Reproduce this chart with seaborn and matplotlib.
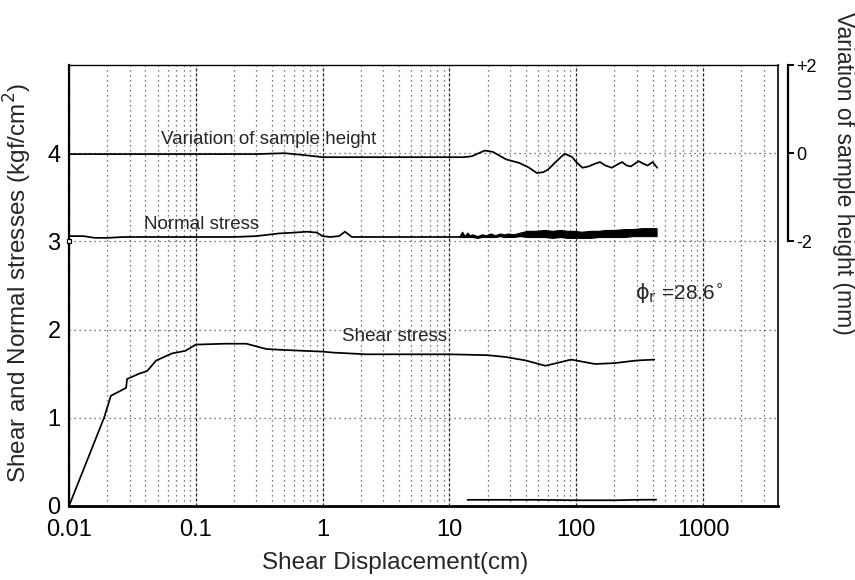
import matplotlib
matplotlib.use("Agg")
import matplotlib.pyplot as plt
from matplotlib.ticker import FixedLocator, FixedFormatter, LogLocator, NullFormatter
import seaborn as sns
import pandas as pd

# ---- data -------------------------------------------------------------
# Shear stress (kgf/cm2) vs shear displacement (cm)
shear_x = [0.01, 0.0189, 0.0214, 0.025, 0.0282, 0.0287, 0.0357, 0.0413, 0.0487,
           0.065, 0.083, 0.1, 0.17, 0.25, 0.36, 0.48, 0.7, 1.0, 1.2, 2.2, 5, 10,
           20, 27.6, 40, 57, 70, 91, 141, 200, 300, 413]
shear_y = [0.0, 1.0, 1.25, 1.30, 1.34, 1.44, 1.50, 1.53, 1.65,
           1.73, 1.76, 1.83, 1.84, 1.84, 1.78, 1.77, 1.76, 1.75, 1.74, 1.72, 1.72, 1.72,
           1.71, 1.69, 1.65, 1.59, 1.62, 1.66, 1.61, 1.62, 1.65, 1.66]

# Normal stress (kgf/cm2), smooth part
normal_x = [0.01, 0.013, 0.016, 0.02, 0.027, 0.04, 0.06, 0.1, 0.2, 0.3, 0.45, 0.6,
            0.75, 0.9, 1.0, 1.15, 1.35, 1.5, 1.7, 2.0, 4, 8, 12]
normal_y = [3.06, 3.06, 3.04, 3.04, 3.05, 3.05, 3.05, 3.05, 3.05, 3.06, 3.09, 3.10,
            3.11, 3.10, 3.06, 3.05, 3.06, 3.11, 3.05, 3.05, 3.05, 3.05, 3.05]

# Normal stress, fluctuating part (lower / upper envelope)
band_x = [12, 12.6, 13.2, 13.8, 14.5, 15.2, 16.6, 18, 19.5, 21, 23, 25, 27, 29, 32,
          36, 41, 48, 56, 65, 75, 85, 95, 110, 130, 150, 170, 200, 240, 280, 330,
          380, 430]
band_lo = [3.05, 3.05, 3.05, 3.05, 3.05, 3.05, 3.04, 3.05, 3.05, 3.05, 3.05, 3.06,
           3.05, 3.05, 3.05, 3.06, 3.05, 3.05, 3.05, 3.04, 3.05, 3.04, 3.04, 3.04,
           3.04, 3.05, 3.05, 3.05, 3.05, 3.06, 3.06, 3.06, 3.06]
band_hi = [3.06, 3.11, 3.06, 3.10, 3.07, 3.08, 3.06, 3.08, 3.07, 3.09, 3.07, 3.09,
           3.08, 3.09, 3.08, 3.10, 3.12, 3.12, 3.13, 3.12, 3.13, 3.12, 3.12, 3.11,
           3.12, 3.12, 3.13, 3.13, 3.14, 3.14, 3.15, 3.15, 3.15]

# Variation of sample height (mm)
height_x = [0.01, 0.3, 0.5, 0.7, 1.0, 5, 13, 15, 19, 22, 28, 35.5, 42, 49, 55, 60,
            70, 81, 87, 93, 100, 112, 125, 140, 154, 170, 191, 210, 230, 250, 270,
            310, 340, 366, 400, 435]
height_mm = [-0.02, -0.02, 0.0, -0.04, -0.09, -0.09, -0.09, -0.07, 0.06, 0.03,
             -0.14, -0.22, -0.32, -0.45, -0.43, -0.37, -0.18, -0.01, -0.05, -0.09,
             -0.20, -0.33, -0.30, -0.24, -0.20, -0.28, -0.33, -0.26, -0.20, -0.28,
             -0.30, -0.18, -0.24, -0.28, -0.20, -0.33]

# Stress trace of the later shearing stage near zero
low_x = [13.9, 50, 100, 200, 300, 427]
low_y = [0.07, 0.07, 0.065, 0.065, 0.07, 0.072]

x_ticks = [0.01, 0.1, 1, 10, 100, 1000]
x_ticklabels = ["0.01", "0.1", "1", "10", "100", "1000"]
y_ticks = [0, 1, 2, 3, 4]
h_ticks = [-2, 0, 2]
h_ticklabels = ["-2", "0", "+2"]

# ---- style ------------------------------------------------------------
sns.set_theme(style="white")
plt.rcParams["font.family"] = ["Liberation Sans", "DejaVu Sans"]
plt.rcParams["mathtext.fontset"] = "dejavusans"

fig = plt.figure(figsize=(8.55, 5.80), dpi=100)
ax = fig.add_axes([69 / 855, 1 - 506 / 580, 709 / 855, 441 / 580])
ax.set_xscale("log")
ax.set_xlim(0.01, 3900)
ax.set_ylim(0, 5)

line_kw = dict(color="black", linewidth=1.25, estimator=None, sort=False,
               legend=False)

sns.lineplot(data=pd.DataFrame({"d": shear_x, "s": shear_y}), x="d", y="s",
             ax=ax, **line_kw)
sns.lineplot(data=pd.DataFrame({"d": normal_x, "s": normal_y}), x="d", y="s",
             ax=ax, **line_kw)
ax.plot(normal_x[0], 3.0, marker="s", ms=3.5, mfc="white", mec="black", mew=0.9,
        clip_on=False, zorder=5)
ax.fill_between(band_x, band_lo, band_hi, color="black", linewidth=0.8,
                edgecolor="black")
sns.lineplot(data=pd.DataFrame({"d": low_x, "s": low_y}), x="d", y="s",
             ax=ax, **line_kw)

# grid
ax.xaxis.set_major_locator(FixedLocator(x_ticks))
ax.xaxis.set_major_formatter(FixedFormatter(x_ticklabels))
ax.xaxis.set_minor_locator(LogLocator(base=10, subs=range(2, 10), numticks=20))
ax.xaxis.set_minor_formatter(NullFormatter())
ax.set_yticks(y_ticks)
ax.grid(True, which="major", axis="x", color="0.15", linestyle=(0, (2.5, 1.5)),
        linewidth=0.9)
ax.grid(True, which="minor", axis="x", color="0.3", linestyle=(0, (1, 3)),
        linewidth=0.9)
ax.grid(True, which="major", axis="y", color="0.3", linestyle=(0, (1, 3)),
        linewidth=0.9)
ax.set_axisbelow(True)

ax.tick_params(axis="both", which="both", length=0, labelsize=17,
               colors="black")
ax.tick_params(axis="x", pad=9)
ax.tick_params(axis="y", pad=6)
for side, lw in (("left", 1.6), ("bottom", 2.0), ("top", 1.0), ("right", 1.2)):
    ax.spines[side].set_visible(True)
    ax.spines[side].set_color("black")
    ax.spines[side].set_linewidth(lw)

ax.set_xlabel("Shear Displacement(cm)", fontsize=17.5, ha="center", va="top")
ax.xaxis.set_label_coords(0.46, -0.104)
ax.set_ylabel("Shear and Normal stresses (kgf/cm$^2$)", fontsize=17.5,
              ha="center", va="bottom")
ax.yaxis.set_label_coords(-0.049, 0.505)

# sample height on its own scale (upper part of the frame)
ax2 = ax.twinx()
ax2.set_ylim(-8, 2)
sns.lineplot(data=pd.DataFrame({"d": height_x, "h": height_mm}), x="d", y="h",
             ax=ax2, **line_kw)
ax2.grid(False)
for side in ("top", "bottom", "left"):
    ax2.spines[side].set_visible(False)
ax2.spines["right"].set_bounds(-2, 2)
ax2.spines["right"].set_position(("outward", 7))
ax2.spines["right"].set_linewidth(1.6)
ax2.spines["right"].set_color("black")
ax2.set_yticks(h_ticks)
ax2.set_yticklabels(h_ticklabels)
ax2.tick_params(axis="y", direction="out", length=4, width=1.4, labelsize=13,
                pad=2, colors="black")
ax2.set_ylabel("Variation of sample height (mm)", fontsize=16.5, rotation=-90,
               rotation_mode="anchor", ha="center", va="center")
ax2.yaxis.set_label_coords(1.093, 0.755)
ax2.set_xlabel("")

# curve annotations
ax.text(0.0533, 4.16, "Variation of sample height", fontsize=13.5,
        ha="left", va="center")
ax.text(0.039, 3.19, "Normal stress", fontsize=13.5, ha="left", va="center")
ax.text(1.43, 1.92, "Shear stress", fontsize=13.5, ha="left", va="center")
ax.text(290, 2.42, r"$\mathrm{\phi}_\mathrm{r}$ =28.6$^{\circ}$", fontsize=15,
        ha="left", va="center")

fig.savefig("out.png", dpi=100)
